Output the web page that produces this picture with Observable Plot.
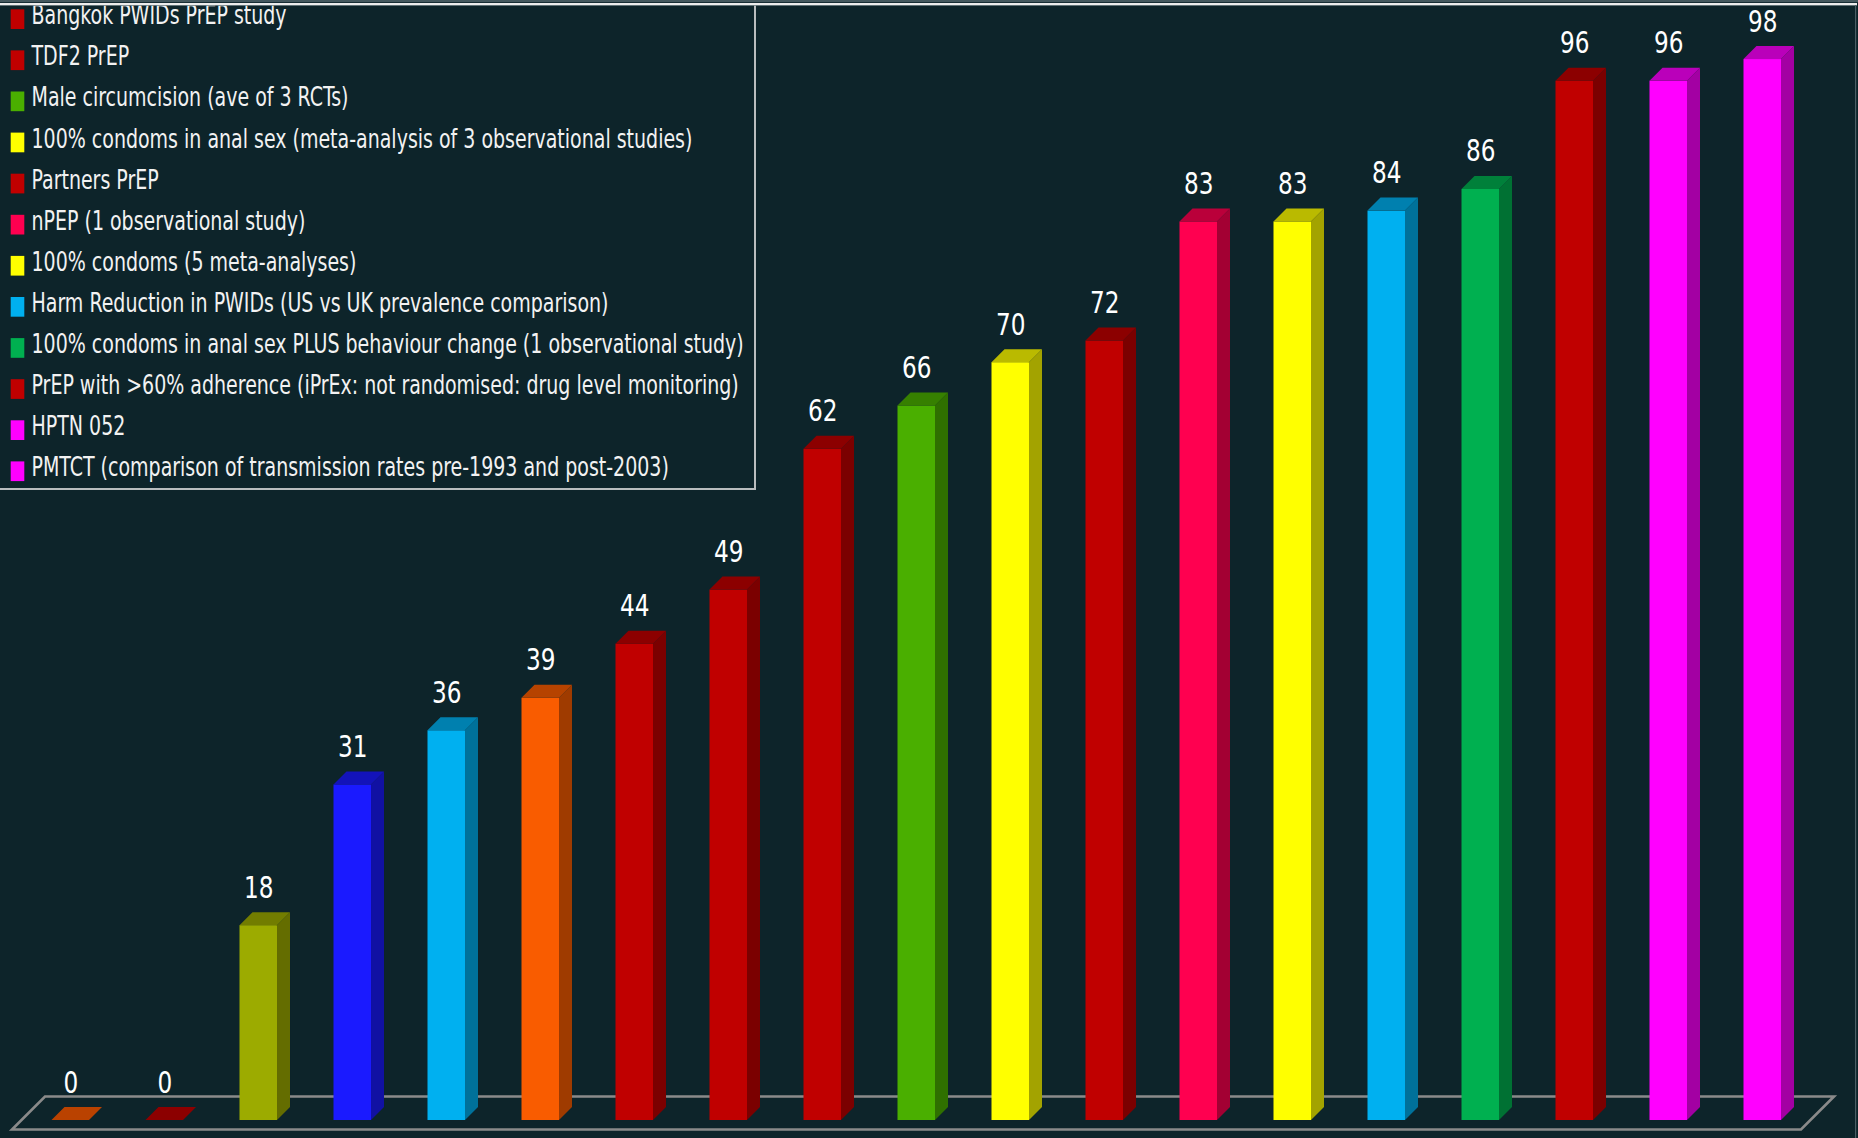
<!DOCTYPE html>
<html>
<head>
<meta charset="utf-8">
<script src="https://cdn.jsdelivr.net/npm/d3@7"></script>
<script src="https://cdn.jsdelivr.net/npm/@observablehq/plot@0.6"></script>
<style>
html, body { margin: 0; padding: 0; background: #0d242a; overflow: hidden; }
#wrap { position: relative; width: 1858px; height: 1138px; }
#wrap > svg { display: block; }
#overlay { position: absolute; left: 0; top: 0; pointer-events: none; }
</style>
</head>
<body>
<div id="wrap"></div>
<script>
// ---- data ----
const barValues = [0, 0, 18, 31, 36, 39, 44, 49, 62, 66, 70, 72, 83, 83, 84, 86, 96, 96, 98];
const barColors = [
  "#ff5a00", "#c00000", "#9cab00", "#1a1aff", "#00b0f0", "#f95c00", "#c00000",
  "#c00000", "#c00000", "#4aaf00", "#ffff00", "#c00000", "#ff0050", "#ffff00",
  "#00b0f0", "#00b050", "#c00000", "#ff00ff", "#ff00ff"
];
const legendLabels = [
  "Bangkok PWIDs PrEP study",
  "TDF2 PrEP",
  "Male circumcision (ave of 3 RCTs)",
  "100% condoms in anal sex (meta-analysis of 3 observational studies)",
  "Partners PrEP",
  "nPEP (1 observational study)",
  "100% condoms (5 meta-analyses)",
  "Harm Reduction in PWIDs (US vs UK prevalence comparison)",
  "100% condoms in anal sex PLUS behaviour change (1 observational study)",
  "PrEP with >60% adherence (iPrEx: not randomised: drug level monitoring)",
  "HPTN 052",
  "PMTCT (comparison of transmission rates pre-1993 and post-2003)"
];
const legendColors = [
  "#c00000", "#c00000", "#4aaf00", "#ffff00", "#c00000", "#ff0050",
  "#ffff00", "#00b0f0", "#00b050", "#c00000", "#ff00ff", "#ff00ff"
];

// ---- styling constants ----
const BG = "#0d242a";
const DEPTH = 13;          // 3D depth of bars (px)
const FONT = "'Liberation Sans Narrow', 'DejaVu Sans Condensed', 'Liberation Sans', sans-serif";

function shade(c, k) {
  const r = d3.rgb(c);
  return d3.rgb(r.r * k, r.g * k, r.b * k).formatHex();
}

const bars = barValues.map((v, i) => ({
  id: i, value: v, front: barColors[i],
  side: shade(barColors[i], 0.64), top: shade(barColors[i], 0.73)
}));

function bandwidthOf(x) {
  return typeof x.bandwidth === "function" ? x.bandwidth() : x.bandwidth;
}
const pts = a => a.map(p => p.join(",")).join(" ");

// floor (parallelogram outline) derived from the scales
function floorMark(index, scales) {
  const x = scales.x, y = scales.y;
  const bw = bandwidthOf(x);
  const xa = x(bars[0].id), xb = x(bars[bars.length - 1].id) + bw;
  const y0 = y(0);
  const skew = 33;
  const g = d3.create("svg:g");
  g.append("polygon")
    .attr("points", pts([
      [xa - 39.5, y0 + 9.5], [xb + 20, y0 + 9.5],
      [xb + 20 + skew, y0 - 23.5], [xa - 39.5 + skew, y0 - 23.5]
    ]))
    .attr("fill", "none")
    .attr("stroke", "#8a8a8a")
    .attr("stroke-width", 2.6);
  return g.node();
}

// side and top faces of the 3D bars
function facesMark(index, scales) {
  const x = scales.x, y = scales.y;
  const bw = bandwidthOf(x);
  const y0 = y(0);
  const g = d3.create("svg:g");
  for (const d of bars) {
    const x0 = x(d.id), x1 = x0 + bw, yt = y(d.value);
    g.append("polygon")
      .attr("points", pts([[x1, yt], [x1 + DEPTH, yt - DEPTH], [x1 + DEPTH, y0 - DEPTH], [x1, y0]]))
      .attr("fill", d.side);
    g.append("polygon")
      .attr("points", pts([[x0, yt], [x1, yt], [x1 + DEPTH, yt - DEPTH], [x0 + DEPTH, yt - DEPTH]]))
      .attr("fill", d.top);
  }
  return g.node();
}

const chart = Plot.plot({
  width: 1858,
  height: 1138,
  marginLeft: 42.1,
  marginRight: 67.6,
  marginTop: 37.4,
  marginBottom: 18,
  style: { background: BG, fontFamily: FONT },
  x: { type: "band", domain: bars.map(d => d.id), paddingInner: 0.601, paddingOuter: 0.1, round: false, axis: null },
  y: { domain: [0, 100], axis: null },
  marks: [
    floorMark,
    Plot.barY(bars, { x: "id", y: "value", fill: "front" }),
    facesMark,
    Plot.text(bars, {
      x: "id", y: "value", text: d => String(d.value),
      lineAnchor: "bottom", dy: -28, fill: "#ffffff",
      fontSize: 31, fontFamily: FONT, textAnchor: "middle"
    })
  ]
});
document.getElementById("wrap").appendChild(chart);

// condense the value labels horizontally (reference uses a narrow face)
{
  const texts = Array.from(chart.querySelectorAll('g[aria-label="text"] text'));
  const two = texts.find(t => t.textContent.length === 2);
  const len = two ? two.getComputedTextLength() : 0;
  const kx = len > 0 ? 29.5 / len : 1;
  for (const t of texts) {
    const tr = t.getAttribute("transform") || "";
    const xa = t.getAttribute("x");
    if (xa != null) {
      const xv = +xa;
      t.setAttribute("transform", `${tr} translate(${xv},0) scale(${kx},1) translate(${-xv},0)`);
    } else {
      t.setAttribute("transform", `${tr} scale(${kx},1)`);
    }
  }
}

// ---- overlay: frame lines and legend ----
const ov = d3.select("#wrap").append("svg")
  .attr("id", "overlay")
  .attr("width", 1858).attr("height", 1138);

const lg = ov.append("g");
const textG = lg.append("g");
legendLabels.forEach((t, i) => {
  const base = 24.3 + 41.1 * i;
  lg.append("rect")
    .attr("x", 10.7).attr("y", base - 15)
    .attr("width", 13.6).attr("height", 19.7)
    .attr("fill", legendColors[i]);
  textG.append("text")
    .attr("x", 0).attr("y", base)
    .attr("fill", "#f2f2f2")
    .attr("font-family", FONT)
    .attr("font-size", 26.5)
    .text(t);
});
let maxW = 0;
textG.selectAll("text").each(function () { maxW = Math.max(maxW, this.getComputedTextLength()); });
const k = maxW > 0 ? 712.5 / maxW : 1;
textG.attr("transform", `translate(31.5,0) scale(${k},1)`);

// legend box border
ov.append("path")
  .attr("d", "M755,5 V489 H0")
  .attr("fill", "none").attr("stroke", "#b9bdbe").attr("stroke-width", 2);

// top frame lines
ov.append("rect").attr("x", 0).attr("y", 0).attr("width", 1858).attr("height", 2.2).attr("fill", "#44585e");
ov.append("rect").attr("x", 0).attr("y", 3).attr("width", 1857).attr("height", 2.2).attr("fill", "#ececec");
ov.append("rect").attr("x", 0).attr("y", 5.2).attr("width", 1857).attr("height", 0.8).attr("fill", "#6c7c80");
// right frame line
ov.append("rect").attr("x", 1855).attr("y", 5).attr("width", 1.2).attr("height", 1133).attr("fill", "#4a5f65");
</script>
</body>
</html>
